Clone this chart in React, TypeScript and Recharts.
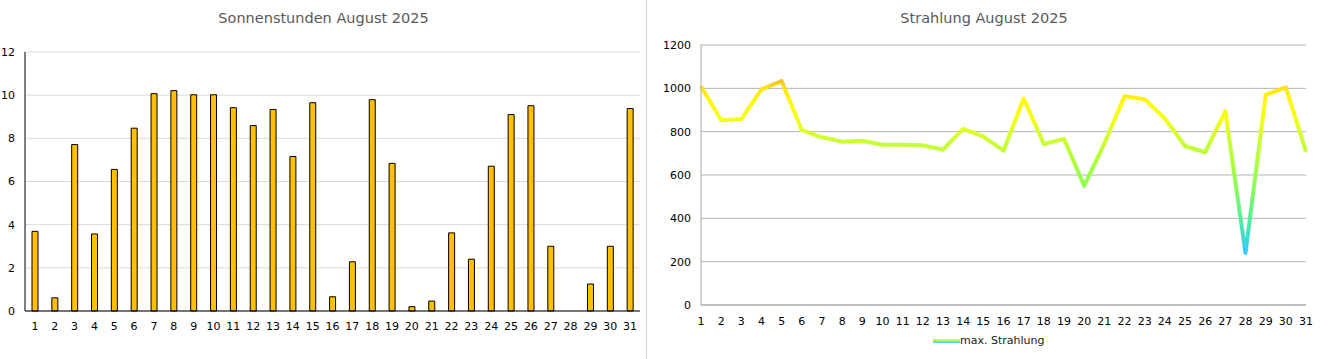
import React from "react";
import { BarChart, Bar, LineChart, Line, XAxis, YAxis, CartesianGrid } from "recharts";

const days = ["1","2","3","4","5","6","7","8","9","10","11","12","13","14","15","16","17","18","19","20","21","22","23","24","25","26","27","28","29","30","31"];
const sunHours = [3.69,0.61,7.71,3.57,6.56,8.47,10.07,10.21,10.02,10.02,9.42,8.59,9.34,7.16,9.65,0.66,2.28,9.79,6.84,0.2,0.46,3.62,2.4,6.71,9.1,9.51,3.0,0,1.25,3.0,9.38];
const radiation = [1010,853,858,995,1033,807,774,754,758,740,740,737,717,813,777,712,953,743,767,550,745,963,950,861,734,705,894,240,970,1004,708];
const sunTicks = [0,2,4,6,8,10,12];
const radTicks = [0,200,400,600,800,1000,1200];
const sunTitle = "Sonnenstunden August 2025";
const radTitle = "Strahlung August 2025";
const radLegend = "max. Strahlung";

const colorStops: [number, string][] = [
  [1040, "#F2C21E"],
  [1000, "#FFE414"],
  [940, "#FFF80C"],
  [860, "#F4FF14"],
  [760, "#CCFF33"],
  [700, "#BBFF33"],
  [550, "#8CFF55"],
  [400, "#55EE99"],
  [240, "#33CCFF"],
];

const sunData = days.map((d, i) => ({ day: d, v: sunHours[i] }));
const radData = days.map((d, i) => ({ day: d, v: radiation[i] }));

const FONT = "'DejaVu Sans', Verdana, sans-serif";
const TICK = { fontSize: 11, fill: "#000", fontFamily: FONT };

export default function App() {
  const maxV = Math.max(...radiation);
  const minV = Math.min(...radiation);
  const off = (v: number) => Math.min(1, Math.max(0, (maxV - v) / (maxV - minV)));
  return (
    <div style={{ position: "absolute", left: 0, top: 0, width: 1320, height: 359, background: "#fff", fontFamily: FONT }}>
      <div style={{ position: "absolute", left: 0, top: 10, width: 647, textAlign: "center", fontSize: 14.5, color: "#595959", fontFamily: FONT }}>{sunTitle}</div>
      <div style={{ position: "absolute", left: 648, top: 10, width: 672, textAlign: "center", fontSize: 14.5, color: "#595959", fontFamily: FONT }}>{radTitle}</div>
      <div style={{ position: "absolute", left: 646, top: 0, width: 1, height: 359, background: "#D4D4D4" }} />
      <div style={{ position: "absolute", left: 0, top: 0 }}>
        <BarChart width={647} height={359} data={sunData} margin={{ top: 52, right: 7, bottom: 18, left: 0 }} barCategoryGap={0}>
          <CartesianGrid vertical={false} stroke="#D9D9D9" />
          <XAxis dataKey="day" height={30} tickLine={false} axisLine={{ stroke: "#000" }} tickSize={0} tickMargin={11} interval={0} tick={TICK} />
          <YAxis width={25} domain={[0, 12]} ticks={sunTicks} tickLine={false} axisLine={{ stroke: "#000" }} tickSize={0} tickMargin={10} tick={TICK} />
          <Bar dataKey="v" fill="#FFC000" stroke="#000" strokeWidth={1} barSize={6} isAnimationActive={false} />
        </BarChart>
      </div>
      <div style={{ position: "absolute", left: 648, top: 0 }}>
        <LineChart width={672} height={359} data={radData} margin={{ top: 45, right: 14, bottom: 24, left: 0 }}>
          <defs>
            <linearGradient id="radGrad" x1="0" y1="0" x2="0" y2="1">
              {colorStops.map(([v, c], i) => (
                <stop key={i} offset={off(v)} stopColor={c} />
              ))}
            </linearGradient>
          </defs>
          <CartesianGrid vertical={false} stroke="#B3B3B3" />
          <XAxis dataKey="day" height={30} tickLine={false} axisLine={{ stroke: "#A6A6A6" }} tickSize={0} tickMargin={12} interval={0} padding={{ left: 0, right: 0 }} tick={TICK} />
          <YAxis width={53} domain={[0, 1200]} ticks={radTicks} tickLine={false} axisLine={{ stroke: "#A6A6A6" }} tickSize={0} tickMargin={10} tick={TICK} />
          <Line type="linear" dataKey="v" stroke="url(#radGrad)" strokeWidth={4} dot={false} strokeLinejoin="round" isAnimationActive={false} />
        </LineChart>
      </div>
      <div style={{ position: "absolute", left: 933, top: 334, display: "flex", alignItems: "center", fontSize: 11, color: "#222", fontFamily: FONT }}>
        <svg width={27} height={6} style={{ display: "block" }}>
          <defs>
            <linearGradient id="legGrad" x1="0" y1="0" x2="0" y2="1">
              <stop offset="0" stopColor="#FFFF00" />
              <stop offset="0.5" stopColor="#88FF66" />
              <stop offset="1" stopColor="#33CCFF" />
            </linearGradient>
          </defs>
          <rect x={0} y={1} width={27} height={4} fill="url(#legGrad)" />
        </svg>
        <span>{radLegend}</span>
      </div>
    </div>
  );
}
